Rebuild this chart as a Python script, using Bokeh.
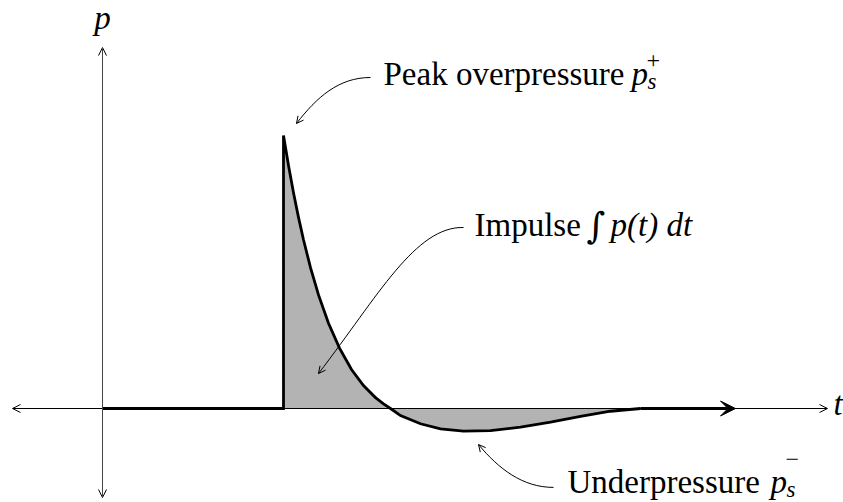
from bokeh.plotting import figure
from bokeh.models import Range1d, Arrow, OpenHead, VeeHead, Label
from bokeh.embed import file_html
from bokeh.resources import INLINE

# ---- data: time t (arbitrary units), pressure p (peak = 1)
t_curve = [0.0, 1.81, 1.81, 1.86, 1.91, 1.96, 2.01, 2.08, 2.16, 2.26, 2.37, 2.49,
           2.61, 2.73, 2.81, 2.88, 2.98, 3.18, 3.38, 3.61, 3.88, 4.18, 4.48, 4.78,
           5.08, 5.38, 6.33]
p_curve = [0.0, 0.0, 1.0, 0.89, 0.79, 0.70, 0.618, 0.516, 0.416, 0.312, 0.221, 0.143,
           0.084, 0.040, 0.017, 0.0, -0.026, -0.056, -0.075, -0.083, -0.081, -0.068,
           -0.050, -0.029, -0.010, 0.0, 0.0]

axis_t = [-0.90, 7.25]   # horizontal axis extent
axis_p = [-0.326, 1.322]  # vertical axis extent

FONT = "Liberation Serif"
BLACK = "#000000"
GRAY = "#b3b3b3"

p = figure(width=843, height=502, x_range=Range1d(-1.02, 7.41),
           y_range=Range1d(-0.3443, 1.4945), output_backend="svg",
           toolbar_location=None, min_border=0,
           x_axis_location=None, y_axis_location=None)
p.grid.visible = False
p.outline_line_color = None
p.background_fill_color = "white"
p.border_fill_color = "white"

# shaded impulse area
p.varea(x=t_curve, y1=[0.0] * len(t_curve), y2=p_curve, fill_color=GRAY)

# axes with open arrowheads
p.add_layout(Arrow(x_start=axis_t[0], y_start=0, x_end=axis_t[1], y_end=0,
                   start=OpenHead(size=8, line_width=1, line_color=BLACK),
                   end=OpenHead(size=8, line_width=1, line_color=BLACK),
                   line_width=1, line_color=BLACK))
p.add_layout(Arrow(x_start=0, y_start=axis_p[0], x_end=0, y_end=axis_p[1],
                   start=OpenHead(size=8, line_width=1, line_color=BLACK),
                   end=OpenHead(size=8, line_width=1, line_color=BLACK),
                   line_width=1, line_color="#444444"))

# pressure curve
p.line(t_curve[:-1], p_curve[:-1], line_width=2.8, line_color=BLACK, line_join="miter")
p.add_layout(Arrow(x_start=t_curve[-2], y_start=p_curve[-2], x_end=t_curve[-1], y_end=p_curve[-1],
                   end=VeeHead(size=15, fill_color=BLACK, line_color=BLACK, line_width=1),
                   line_width=2.8, line_color=BLACK))

# curved annotation arrows (cubic Bezier) : (x0,y0, cx0,cy0, cx1,cy1, x1,y1)
curves = [
    (2.68, 1.2125, 2.36, 1.2125, 2.14, 1.139, 1.94, 1.044),
    (3.61, 0.663, 3.13, 0.667, 2.76, 0.414, 2.16, 0.128),
    (4.51, -0.289, 4.20, -0.289, 3.96, -0.220, 3.76, -0.132),
]
for (x0, y0, cx0, cy0, cx1, cy1, x1, y1) in curves:
    p.bezier(x0=[x0], y0=[y0], x1=[x1], y1=[y1], cx0=[cx0], cy0=[cy0],
             cx1=[cx1], cy1=[cy1], line_color=BLACK, line_width=1)
    sx = x1 + (cx1 - x1) * 0.2
    sy = y1 + (cy1 - y1) * 0.2
    p.add_layout(Arrow(x_start=sx, y_start=sy, x_end=x1, y_end=y1,
                       end=OpenHead(size=7, line_width=1, line_color=BLACK),
                       line_alpha=0))

DY = 0.046  # baseline correction


def lab(x, y, text, size="33px", style="normal", align="left", font=FONT):
    p.add_layout(Label(x=x, y=y + DY, text=text, text_font=font, text_font_size=size,
                       text_font_style=style, text_color=BLACK,
                       text_baseline="alphabetic", text_align=align))


# axis labels
lab(0.0, 1.384, "p", style="italic", align="center")
lab(7.31, -0.029, "t", style="italic")

# Peak overpressure p_s^+
lab(2.81, 1.179, "Peak overpressure")
lab(5.29, 1.179, "p", style="italic")
lab(5.45, 1.150, "s", size="23px", style="italic")
lab(5.44, 1.227, "+", size="24px")

# Impulse ∫ p(t) dt
lab(3.72, 0.626, "Impulse")
lab(4.84, 0.626, "\u222b", size="36px", style="italic", font="DejaVu Serif")
lab(5.08, 0.626, "p(t) dt", style="italic")

# Underpressure p_s^-
lab(4.65, -0.315, "Underpressure")
lab(6.68, -0.315, "p", style="italic")
lab(6.84, -0.341, "s", size="23px", style="italic")
lab(6.83, -0.234, "\u2212", size="24px")

open("out.html", "w").write(file_html(p, INLINE))
